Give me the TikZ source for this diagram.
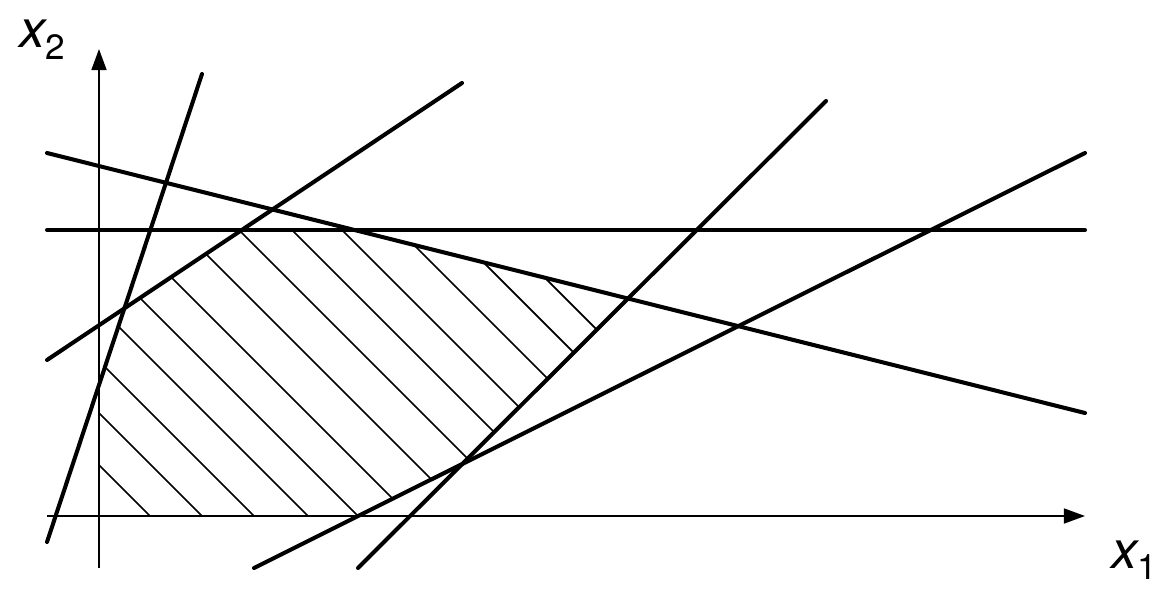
\documentclass[tikz,border=0pt]{standalone}
\usepackage{fontspec}
\setmainfont{TeX Gyre Heros}
\usetikzlibrary{arrows.meta}

\newcommand{\axisvar}[1]{x{\upshape\fontsize{20}{20}\selectfont\raisebox{-6.3pt}{#1}}}

\tikzset{
    constraint/.style={line width=2.3pt, line cap=round},
    axis/.style={line width=1.1pt, -{Triangle[length=12pt,width=8.5pt]}},
    hatch/.style={line width=1pt},
    axislabel/.style={inner sep=0pt, anchor=base west, font=\fontsize{30}{36}\selectfont\itshape}
}

\begin{document}
\begin{tikzpicture}[x=0.02cm, y=-0.02cm]
    \useasboundingbox (0,0) rectangle (1175,591);

    % Hatched feasible region
    \begin{scope}
        \clip (99,516) -- (99,385) -- (124.4,308.3) -- (241.8,230) -- (354.4,230)
            -- (628,298.5) -- (462.2,464) -- (358.1,516) -- cycle;
        \foreach \c in {-366,-314,-262,-208,-158,-106,-48,9,62,112,169,221,267}
            \draw[hatch] (\c,0) -- ++(700,700);
    \end{scope}

    % Axes
    \coordinate (xaxisL) at (47,516);
    \coordinate (xaxisR) at (1085,516);
    \coordinate (yaxisB) at (99,568);
    \coordinate (yaxisT) at (99,49);
    \draw[axis] (xaxisL) -- (xaxisR);
    \draw[axis] (yaxisB) -- (yaxisT);

    % Axis labels
    \node[axislabel] (x1label) at (1111,568) {\axisvar{1}};
    \node[axislabel] (x2label) at (19,48) {\axisvar{2}};

    % Constraint lines
    \draw[constraint] (47,542) -- (202,74);
    \draw[constraint] (47,360) -- (462,83);
    \draw[constraint] (47,153) -- (1085,413);
    \draw[constraint] (47,230) -- (1085,230);
    \draw[constraint] (358,568) -- (826,101);
    \draw[constraint] (254,568) -- (1085,153);
\end{tikzpicture}
\end{document}
